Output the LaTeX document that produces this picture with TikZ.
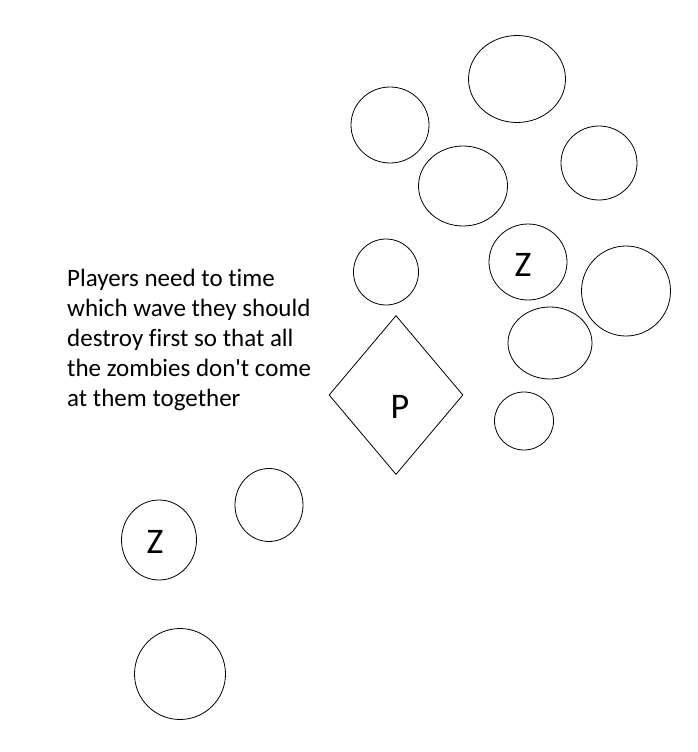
\documentclass[tikz,border=0pt]{standalone}
\usepackage{fontspec}
\setmainfont{Carlito}[Ligatures={NoCommon}]
\usetikzlibrary{shapes.geometric}

\begin{document}
\begin{tikzpicture}[x=1pt, y=-1pt,
		wave/.style={draw, ellipse, line width=0.8pt, inner sep=0pt},
		tag/.style={inner sep=0pt, font=\fontsize{36}{36}\selectfont}]
	\useasboundingbox (0,0) rectangle (698,752);
	
	% zombie waves, top right group
	\node[wave, minimum width=97pt, minimum height=87pt] (w1) at (517,79) {};
	\node[wave, minimum width=78pt, minimum height=76pt] (w2) at (390,125) {};
	\node[wave, minimum width=89pt, minimum height=80pt] (w3) at (463,186) {};
	\node[wave, minimum width=76pt, minimum height=74pt] (w4) at (599,163) {};
	\node[wave, minimum width=65pt, minimum height=66pt] (w5) at (386,272) {};
	\node[wave, minimum width=78pt, minimum height=76pt] (w6) at (528,262) {};
	\node[wave, minimum width=89pt, minimum height=90pt] (w7) at (626,291) {};
	\node[wave, minimum width=84pt, minimum height=72pt] (w8) at (550,343) {};
	\node[wave, minimum width=59pt, minimum height=58pt] (w9) at (524,421) {};
	
	% zombie waves, bottom left group
	\node[wave, minimum width=68pt, minimum height=73pt] (w10) at (269,505) {};
	\node[wave, minimum width=75pt, minimum height=80pt] (w11) at (159,540) {};
	\node[wave, minimum width=91pt, minimum height=91pt] (w12) at (180,674) {};
	
	% player
	\node[draw, diamond, line width=0.8pt, inner sep=0pt, minimum width=134pt, minimum height=159pt] (player) at (396,395) {};
	
	\node[tag] (zA) at (523,265) {Z};
	\node[tag] (zB) at (155,542) {Z};
	\node[tag] (pP) at (400,407) {P};
	
	\node[anchor=north west, inner sep=0pt, align=left, font=\fontsize{25}{30}\selectfont] (note) at (67,269)
		{Players need to time\\which wave they should\\destroy first so that all\\the zombies don\textquotesingle t come\\at them together};
\end{tikzpicture}
\end{document}
